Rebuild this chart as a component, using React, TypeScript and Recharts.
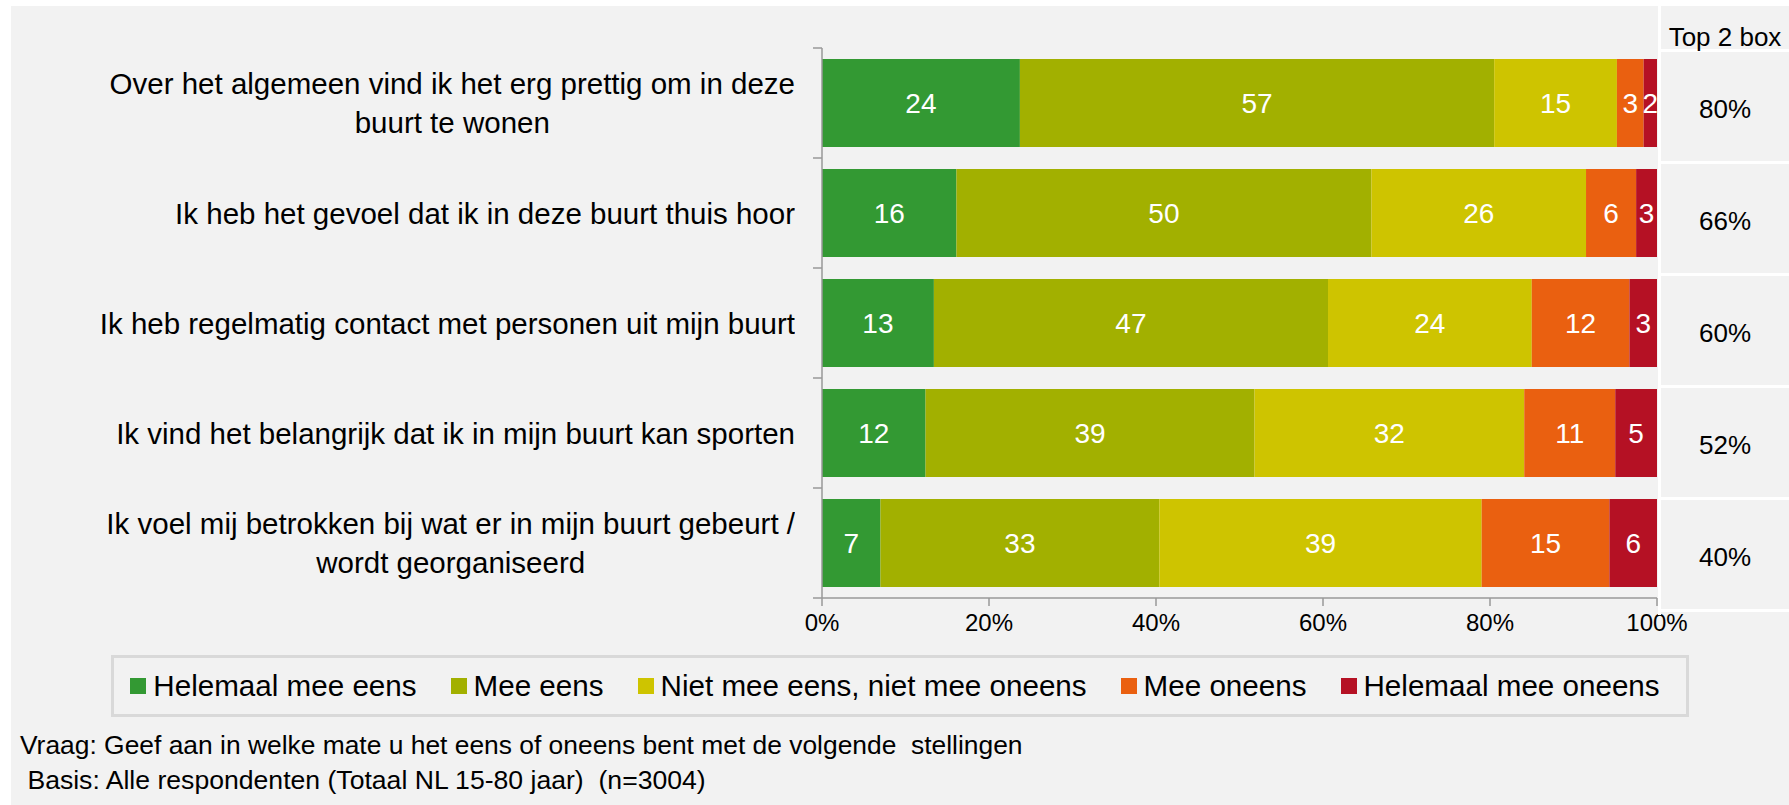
import { BarChart, Bar, XAxis, YAxis, Legend, LabelList } from "recharts";

const categories = [
  "Over het algemeen vind ik het erg prettig om in deze\nbuurt te wonen",
  "Ik heb het gevoel dat ik in deze buurt thuis hoor",
  "Ik heb regelmatig contact met personen uit mijn buurt",
  "Ik vind het belangrijk dat ik in mijn buurt kan sporten",
  "Ik voel mij betrokken bij wat er in mijn buurt gebeurt /\nwordt georganiseerd",
];

const helemaalMeeEens = [23.7, 16.1, 13.4, 12.4, 7.0];
const meeEens = [56.8, 49.7, 47.2, 39.4, 33.4];
const neutraal = [14.7, 25.7, 24.4, 32.3, 38.6];
const meeOneens = [3.2, 6.0, 11.7, 10.9, 15.3];
const helemaalMeeOneens = [1.6, 2.5, 3.3, 5.0, 5.7];

const top2box = [80, 66, 60, 52, 40];

const seriesNames = [
  "Helemaal mee eens",
  "Mee eens",
  "Niet mee eens, niet mee oneens",
  "Mee oneens",
  "Helemaal mee oneens",
];
const seriesColors = ["#339933", "#a2b000", "#cec400", "#ea6010", "#b51124"];
const seriesKeys = ["s1", "s2", "s3", "s4", "s5"];

const xTicks = [0, 20, 40, 60, 80, 100];

const font = '"Liberation Sans", Arial, sans-serif';

const data = categories.map((name, i) => ({
  name,
  s1: helemaalMeeEens[i],
  s2: meeEens[i],
  s3: neutraal[i],
  s4: meeOneens[i],
  s5: helemaalMeeOneens[i],
}));

const W = 1789;
const H = 805;
const PLOT_LEFT = 822;
const PLOT_TOP = 48;
const PLOT_BOTTOM = 598;
const BAND = (PLOT_BOTTOM - PLOT_TOP) / categories.length;

const CategoryTick = (props: any) => {
  const { y, payload, index } = props;
  const lines = String(payload.value).split("\n");
  const h = 39 * lines.length;
  return (
    <g>
      <line x1={PLOT_LEFT - 9} x2={PLOT_LEFT} y1={y - BAND / 2} y2={y - BAND / 2} stroke="#999" strokeWidth={1.5} />
      {index === categories.length - 1 && (
        <line x1={PLOT_LEFT - 9} x2={PLOT_LEFT} y1={y + BAND / 2} y2={y + BAND / 2} stroke="#999" strokeWidth={1.5} />
      )}
      <foreignObject x={0} y={y - h / 2} width={795} height={h}>
        <div style={{ display: "flex", justifyContent: "flex-end", height: "100%" }}>
          <div style={{ textAlign: "center", fontSize: 29.5, lineHeight: "39px", color: "#000", fontFamily: font, whiteSpace: "nowrap" }}>
            {lines.map((l, k) => (
              <div key={k}>{l}</div>
            ))}
          </div>
        </div>
      </foreignObject>
    </g>
  );
};

const LegendBox = (props: any) => {
  const items = [...(props.payload || [])].sort(
    (a: any, b: any) => seriesNames.indexOf(a.value) - seriesNames.indexOf(b.value)
  );
  return (
    <div
      style={{
        boxSizing: "border-box",
        width: "100%",
        height: "100%",
        border: "3px solid #d9d9d9",
        display: "flex",
        alignItems: "center",
        justifyContent: "center",
        gap: 34,
        paddingRight: 10,
        fontFamily: font,
        fontSize: 29.6,
        color: "#000",
      }}
    >
      {items.map((p: any, i: number) => (
        <div key={i} style={{ display: "flex", alignItems: "center", whiteSpace: "nowrap" }}>
          <span style={{ display: "inline-block", width: 16, height: 16, background: p.color, marginRight: 7 }} />
          <span>{p.value}</span>
        </div>
      ))}
    </div>
  );
};

const Top2Column = () => (
  <div
    style={{
      position: "absolute",
      left: 1658,
      top: 6,
      width: W - 1658,
      height: 609,
      borderLeft: "3px solid #fff",
      boxSizing: "border-box",
      fontFamily: font,
      color: "#000",
    }}
  >
    <div
      style={{
        height: 46,
        borderBottom: "3px solid #fff",
        fontSize: 26,
        textAlign: "center",
        lineHeight: "28px",
        paddingTop: 17,
        boxSizing: "border-box",
        whiteSpace: "nowrap",
      }}
    >
      Top 2 box
    </div>
    {top2box.map((v, i) => (
      <div
        key={i}
        style={{
          height: 112,
          borderBottom: "3px solid #fff",
          display: "flex",
          alignItems: "center",
          justifyContent: "center",
          fontSize: 26,
          paddingTop: 6,
          boxSizing: "border-box",
        }}
      >
        {v}%
      </div>
    ))}
  </div>
);

export default function App() {
  return (
    <div style={{ position: "absolute", left: 0, top: 0, width: W, height: H, background: "#fff", overflow: "hidden" }}>
      <div style={{ position: "absolute", left: 11, top: 6, width: W - 11, height: H - 6, background: "#f2f2f2" }} />
      <div style={{ position: "absolute", left: 0, top: 0 }}>
        <BarChart
          width={W}
          height={H}
          data={data}
          layout="vertical"
          margin={{ top: PLOT_TOP, right: W - 1657, bottom: H - PLOT_BOTTOM - 40, left: 0 }}
          barCategoryGap="10%"
        >
          <XAxis
            type="number"
            domain={[0, 100]}
            ticks={xTicks}
            tickFormatter={(v: number) => `${v}%`}
            height={40}
            tickSize={8}
            tickMargin={8}
            axisLine={{ stroke: "#999", strokeWidth: 1.5 }}
            tickLine={{ stroke: "#999", strokeWidth: 1.5 }}
            tick={{ fontSize: 24, fill: "#000", fontFamily: font }}
            interval={0}
          />
          <YAxis
            type="category"
            dataKey="name"
            width={PLOT_LEFT}
            axisLine={{ stroke: "#999", strokeWidth: 1.5 }}
            tickLine={false}
            interval={0}
            tick={(p: any) => <CategoryTick {...p} />}
          />
          <Legend
            verticalAlign="middle"
            layout="horizontal"
            wrapperStyle={{ position: "absolute", left: 111, top: 655, width: 1578, height: 62 }}
            content={(p: any) => <LegendBox {...p} />}
          />
          {seriesKeys.map((k, i) => (
            <Bar key={k} dataKey={k} name={seriesNames[i]} stackId="a" fill={seriesColors[i]} isAnimationActive={false}>
              <LabelList
                dataKey={k}
                position="center"
                fill="#fff"
                stroke="none"
                fontSize={28}
                fontFamily={font}
                formatter={(v: any) => Math.round(Number(v))}
              />
            </Bar>
          ))}
        </BarChart>
      </div>
      <Top2Column />
      <div style={{ position: "absolute", left: 20, top: 730, fontFamily: font, fontSize: 26.4, lineHeight: "30px", whiteSpace: "pre", color: "#000" }}>
        Vraag: Geef aan in welke mate u het eens of oneens bent met de volgende  stellingen
      </div>
      <div style={{ position: "absolute", left: 20, top: 765, fontFamily: font, fontSize: 26.6, lineHeight: "30px", whiteSpace: "pre", color: "#000" }}>
        {" Basis: Alle respondenten (Totaal NL 15-80 jaar)  (n=3004)"}
      </div>
    </div>
  );
}
